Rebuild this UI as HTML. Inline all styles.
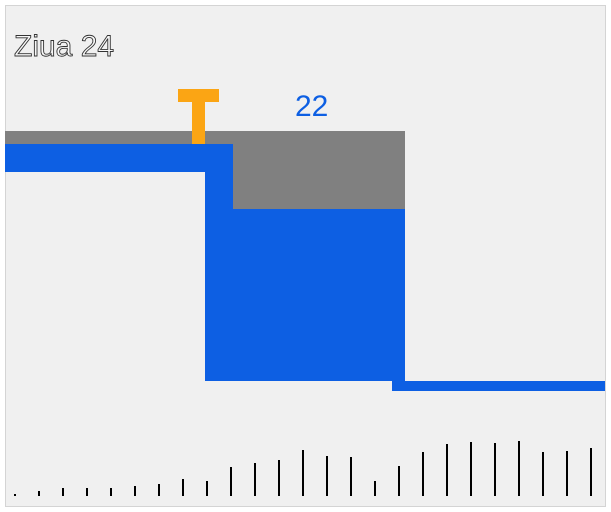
<!DOCTYPE html>
<html><head><meta charset="utf-8">
<style>
html,body{margin:0;padding:0;background:#fff;}
svg{display:block;}
</style></head>
<body>
<svg width="611" height="512" viewBox="0 0 611 512" xmlns="http://www.w3.org/2000/svg">
  <rect x="5.5" y="5.5" width="600" height="501" fill="#f0f0f0" stroke="#d4d4d4" stroke-width="1"/>
  <text x="14" y="56" font-family="Liberation Sans, sans-serif" font-size="30" fill="#f8f8f8" stroke="#333" stroke-width="0.9">Ziua 24</text>
  <polygon points="5,131 405,131 405,209 233,209 233,144 5,144" fill="#808080"/>
  <rect x="5" y="144" width="228" height="28" fill="#0d5fe3"/>
  <rect x="205" y="144" width="28" height="65" fill="#0d5fe3"/>
  <rect x="205" y="209" width="200" height="172" fill="#0d5fe3"/>
  <rect x="392" y="381" width="213" height="10" fill="#0d5fe3"/>
  <rect x="178" y="89" width="41" height="13" fill="#fba514"/>
  <rect x="192" y="102" width="13" height="42" fill="#fba514"/>
  <text x="295" y="116" font-family="Liberation Sans, sans-serif" font-size="30" fill="#0d5fe3">22</text>
  <g id="bars"></g>
</svg>
<script>
const barDays = [1,2,3,4,5,6,7,8,9,10,11,12,13,14,15,16,17,18,19,20,21,22,23,24,25];
const barValues = [2,5,8,8,8,10,12,17,15,29,33,36,46,40,39,15,30,44,52,54,53,55,44,45,48];
function xScale(i){ return 15 + (i - 1) * 24; }
function yScale(v){ return 496 - v; }
const g = document.getElementById('bars');
barDays.forEach((d, k) => {
  const r = document.createElementNS('http://www.w3.org/2000/svg', 'rect');
  const v = barValues[k];
  r.setAttribute('x', xScale(d) - 1);
  r.setAttribute('y', yScale(v));
  r.setAttribute('width', 2);
  r.setAttribute('height', v);
  r.setAttribute('fill', '#000');
  
  
  g.appendChild(r);
});
</script>
</body></html>
